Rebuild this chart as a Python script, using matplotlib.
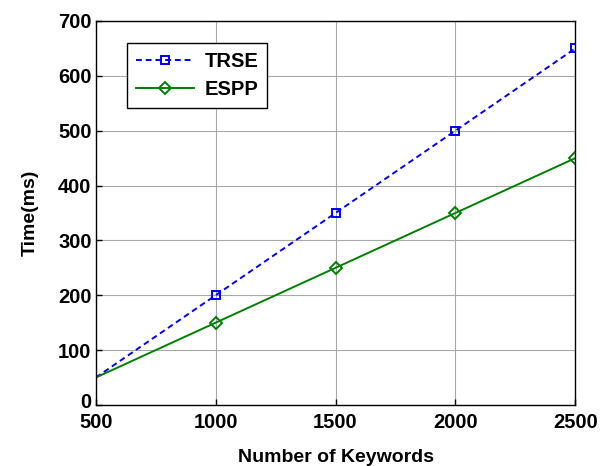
import matplotlib
matplotlib.use("Agg")
import matplotlib.pyplot as plt
from matplotlib.transforms import ScaledTranslation

keywords = [500, 1000, 1500, 2000, 2500]
trse = [50, 200, 350, 500, 650]
espp = [50, 150, 250, 350, 450]

plt.rcParams['font.family'] = ['Liberation Sans', 'DejaVu Sans']
plt.rcParams['font.weight'] = 'bold'

fig = plt.figure(figsize=(6.14, 4.66), dpi=100)
ax = fig.add_axes([0.156, 0.131, 0.781, 0.824])

ax.plot(keywords, trse, '--', color='#0000ff', linewidth=1.4, dashes=(3, 2),
        marker='s', markersize=6, markerfacecolor='none', markeredgewidth=1.4,
        markevery=[1, 2, 3, 4], label='TRSE')
ax.plot(keywords, espp, '-', color='#008000', linewidth=1.4,
        marker='D', markersize=6, markerfacecolor='none', markeredgewidth=1.4,
        markevery=[1, 2, 3, 4], label='ESPP')

ax.set_xlim(500, 2500)
ax.set_ylim(0, 700)
ax.set_xticks(keywords)
ax.set_yticks(range(0, 701, 100))
ax.grid(True, color='#a8a8a8', linewidth=0.8)
ax.tick_params(labelsize=14.5, direction='in', length=4, width=1, pad=3)
ax.tick_params(axis='x', pad=6)
for s in ax.spines.values():
    s.set_linewidth(1)

# lift the "0" a little so it sits just above the "500"
zero = ax.get_yticklabels()[0]
zero.set_transform(zero.get_transform() + ScaledTranslation(0, 3 / 72, fig.dpi_scale_trans))

ax.set_xlabel('Number of Keywords', fontsize=14, fontweight='bold', labelpad=12)
ax.set_ylabel('Time(ms)', fontsize=14, fontweight='bold', labelpad=14)

leg = ax.legend(loc='upper left', bbox_to_anchor=(0.065, 0.943), fontsize=14.5,
                fancybox=False, edgecolor='black', framealpha=1,
                handlelength=2.9, handletextpad=0.5, borderpad=0.45,
                labelspacing=0.45, borderaxespad=0)
leg.get_frame().set_linewidth(1)

fig.savefig('out.png', dpi=100)
